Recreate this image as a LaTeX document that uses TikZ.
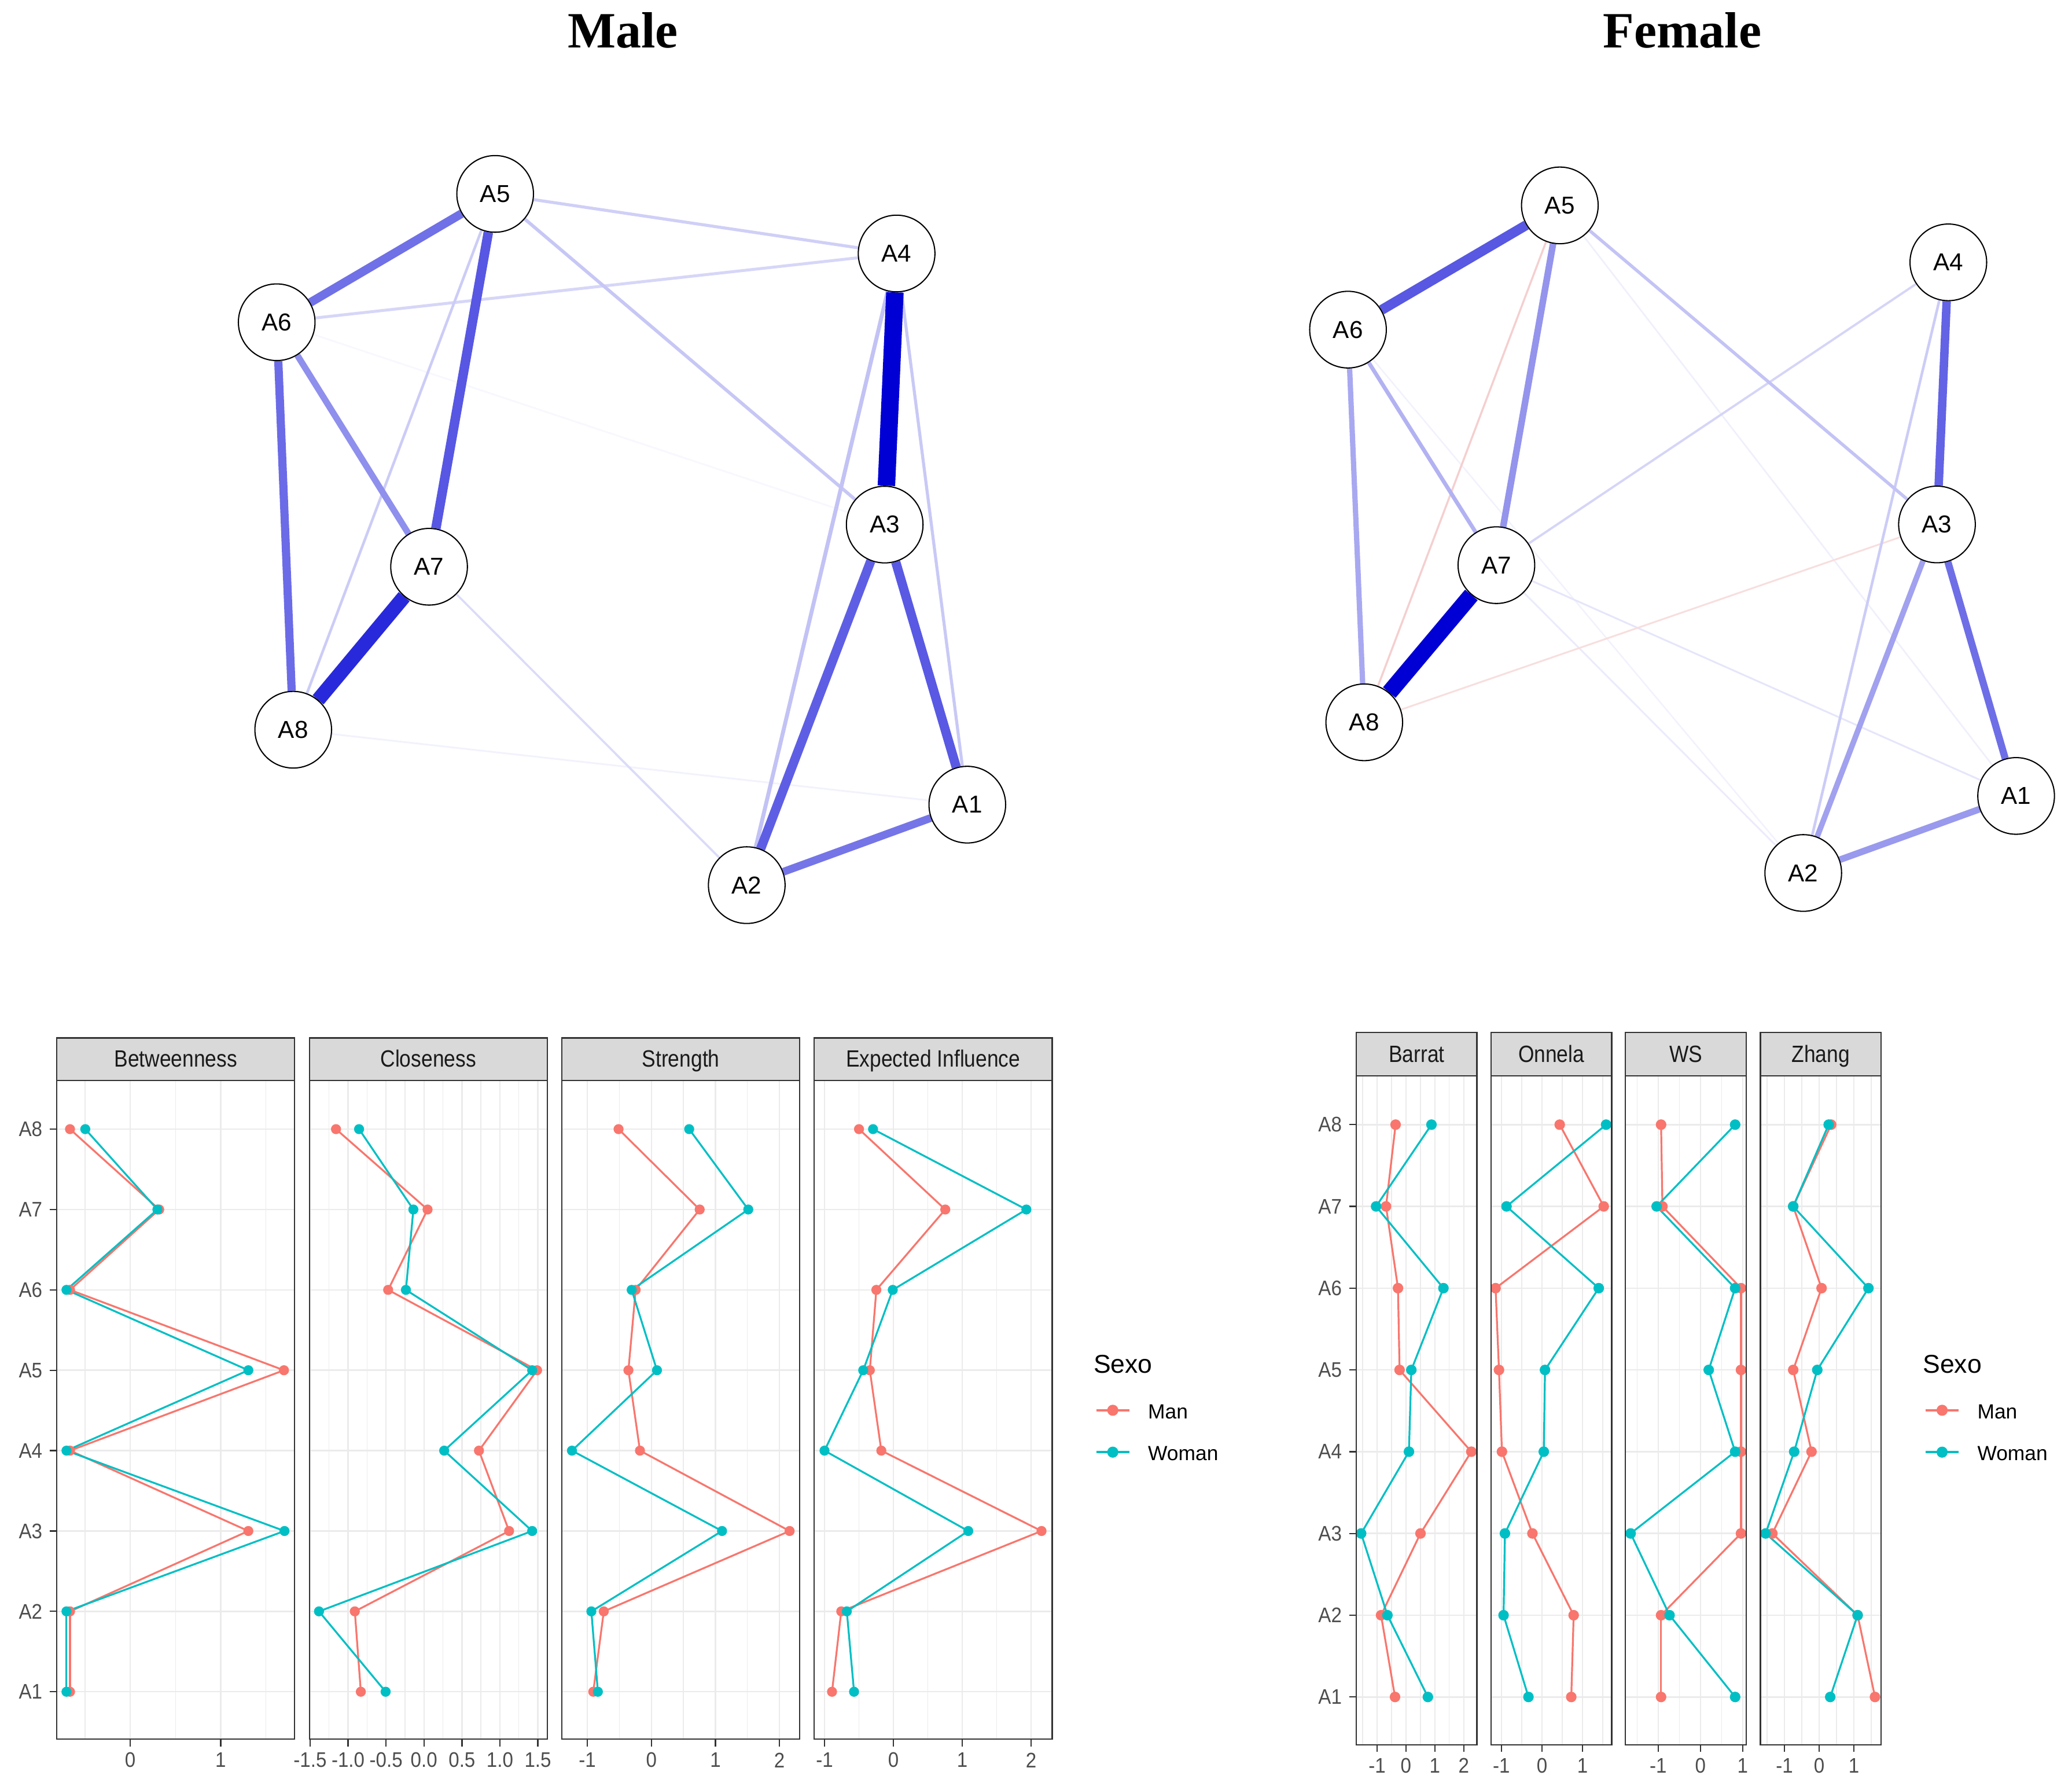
\documentclass[tikz,border=0pt]{standalone}
\usepackage{fontspec}
\setmainfont{Liberation Sans}
\newfontfamily\titlefont{Liberation Serif}
\usepackage{graphicx}
\usetikzlibrary{backgrounds}

\definecolor{manc}{HTML}{F8766D}
\definecolor{womc}{HTML}{00BFC4}
\definecolor{gridc}{HTML}{EBEBEB}
\definecolor{gtw}{HTML}{333333}
\definecolor{gth}{HTML}{4D4D4D}
\definecolor{gte}{HTML}{1A1A1A}
\definecolor{stripc}{HTML}{D9D9D9}
\definecolor{eblue}{HTML}{0000D5}
\definecolor{ered}{HTML}{C80000}

\newcommand{\fsz}[1]{\fontsize{#1}{#1}\selectfont}
\newcommand{\ystr}[2]{\scalebox{1}[#1]{#2}}
\newcount\nodecnt

\tikzset{
  netnode/.style={circle, draw=black, fill=white, line width=0.9pt, minimum size=58pt, inner sep=0pt, font=\fsz{18.5}},
  mingrid/.style={draw=gridc, line width=0.6pt},
  majgrid/.style={draw=gridc, line width=1.1pt},
  frame/.style={draw=gtw, line width=1pt},
  tickline/.style={draw=gtw, line width=1pt},
  striptext/.style={anchor=base, text=gte, font=\fsz{15.5}, inner sep=0pt},
  xlab/.style={anchor=center, text=gth, font=\fsz{14.5}, inner sep=0pt},
  ylab/.style={anchor=east, text=gth, font=\fsz{14.5}, inner sep=0pt},
  dline/.style={line width=1.4pt, line cap=round, line join=round},
  titlestyle/.style={anchor=base, font=\titlefont\bfseries\fsz{38.5}, inner sep=0pt},
}

\newcommand{\nedge}[4]{\draw[line width=#3pt, draw=eblue!#4] (#1) -- (#2);}
\newcommand{\nedgered}[4]{\draw[line width=#3pt, draw=ered!#4] (#1) -- (#2);}

% series line: #1 zero, #2 unit, #3 colour, #4 values (A8..A1)
\newcommand{\serline}[4]{%
  \foreach \v [count=\i from 0, remember=\v as \lv (initially 0)] in {#4} {%
    \ifnum\i>0 \draw[dline, #3] ({#1+(\lv)*#2},{\RA+(\i-1)*\RS}) -- ({#1+(\v)*#2},{\RA+\i*\RS});\fi
  }%
}
\newcommand{\serpts}[4]{%
  \foreach \v [count=\i from 0] in {#4} {\fill[#3] ({#1+(\v)*#2},{\RA+\i*\RS}) circle[radius=\PR];}%
}

% #1 left, #2 zero, #3 unit, #4 title, #5 majors, #6 minors, #7 labels, #8 man, #9 woman
\newcommand{\plotpanel}[9]{%
  \begin{scope}
    \clip (#1,\SB) rectangle ({#1+\PW},\PB);
    \foreach \v in {#6} {\draw[mingrid] ({#2+(\v)*#3},\SB) -- ({#2+(\v)*#3},\PB);}
    \foreach \v in {#5} {\draw[majgrid] ({#2+(\v)*#3},\SB) -- ({#2+(\v)*#3},\PB);}
    \foreach \i in {0,...,7} {\draw[majgrid] (#1,{\RA+\i*\RS}) -- ({#1+\PW},{\RA+\i*\RS});}
    \serline{#2}{#3}{manc}{#8}
    \serline{#2}{#3}{womc}{#9}
    \serpts{#2}{#3}{manc}{#8}
    \serpts{#2}{#3}{womc}{#9}
  \end{scope}
  \draw[frame] (#1,\SB) rectangle ({#1+\PW},\PB);
  \draw[frame, fill=stripc] (#1,\ST) rectangle ({#1+\PW},\SB);
  \global\advance\nodecnt by 1
  \node[striptext] (lbl\the\nodecnt) at ({#1+\PW/2},{(\ST+\SB)/2+6}) {\ystr{1.15}{#4}};
  \foreach \v/\t in {#7} {%
    \draw[tickline] ({#2+(\v)*#3},\PB) -- ({#2+(\v)*#3},{\PB+5.5});
    \global\advance\nodecnt by 1
    \node[xlab] (lbl\the\nodecnt) at ({#2+(\v)*#3},{\PB+15.9}) {\ystr{1.1}{\t}};
  }%
}

\newcommand{\plotyaxis}[1]{%
  \foreach \n [count=\i from 0] in {8,7,6,5,4,3,2,1} {%
    \draw[tickline] ({#1-5.5},{\RA+\i*\RS}) -- (#1,{\RA+\i*\RS});
    \global\advance\nodecnt by 1
    \node[ylab] (lbl\the\nodecnt) at ({#1-10.8},{\RA+\i*\RS}) {\ystr{1.1}{A\n}};
  }%
}

\newcommand{\sexolegend}[2]{%
  \node[anchor=base west, font=\fsz{19.5}, inner sep=0pt] (#2sexo) at (#1,1038.7) {Sexo};
  \draw[manc, line width=1.75pt] (#1+2.2,1067) -- (#1+27.2,1067);
  \fill[manc] (#1+14.7,1067) circle[radius=4.2pt];
  \node[anchor=base west, font=\fsz{15.5}, inner sep=0pt] (#2man) at (#1+41.2,1073.2) {Man};
  \draw[womc, line width=1.75pt] (#1+2.2,1098.7) -- (#1+27.2,1098.7);
  \fill[womc] (#1+14.7,1098.7) circle[radius=4.2pt];
  \node[anchor=base west, font=\fsz{15.5}, inner sep=0pt] (#2woman) at (#1+41.2,1104.9) {Woman};
}

\begin{document}
\begin{tikzpicture}[x=1pt,y=-1pt]
\begin{scope}[on background layer]
  \fill[white] (0,0) rectangle (1568,1354);
\end{scope}
\useasboundingbox (0,0) rectangle (1568,1354);

% titles
\node[titlestyle] (tmale) at (471.4,36.2) {Male};
\node[titlestyle] (tfemale) at (1273,36.2) {Female};

% male network nodes
\node[netnode] (m1) at (732.0,608.8) {A1};
\node[netnode] (m2) at (565.1,669.7) {A2};
\node[netnode] (m3) at (669.5,396.9) {A3};
\node[netnode] (m4) at (678.5,191.8) {A4};
\node[netnode] (m5) at (374.7,146.7) {A5};
\node[netnode] (m6) at (209.4,243.8) {A6};
\node[netnode] (m7) at (324.7,428.8) {A7};
\node[netnode] (m8) at (221.9,552.1) {A8};

% female network nodes
\node[netnode] (f1) at (1525.7,602.2) {A1};
\node[netnode] (f2) at (1364.6,660.5) {A2};
\node[netnode] (f3) at (1465.8,396.8) {A3};
\node[netnode] (f4) at (1474.4,198.5) {A4};
\node[netnode] (f5) at (1180.4,155.4) {A5};
\node[netnode] (f6) at (1020.1,249.4) {A6};
\node[netnode] (f7) at (1132.4,427.6) {A7};
\node[netnode] (f8) at (1032.4,546.5) {A8};

\begin{scope}[on background layer]
  % male edges
  \nedge{m6}{m3}{1.2}{3}
  \nedge{m8}{m1}{1.3}{5}
  \nedge{m7}{m2}{1.6}{14}
  \nedge{m6}{m4}{2.2}{16}
  \nedge{m5}{m4}{2.3}{19}
  \nedge{m5}{m8}{2.0}{20}
  \nedge{m4}{m1}{2.3}{21}
  \nedge{m5}{m3}{2.5}{22}
  \nedge{m4}{m2}{3.0}{24}
  \nedge{m6}{m7}{4.8}{44}
  \nedge{m2}{m1}{5.9}{54}
  \nedge{m5}{m6}{6.5}{56}
  \nedge{m6}{m8}{6.2}{58}
  \nedge{m3}{m2}{7.0}{63}
  \nedge{m3}{m1}{7.0}{65}
  \nedge{m5}{m7}{7.2}{66}
  \nedge{m7}{m8}{10.8}{84}
  \nedge{m4}{m3}{13.2}{100}
  % female edges
  \nedge{f6}{f2}{1.1}{5}
  \nedge{f5}{f1}{1.2}{6}
  \nedge{f7}{f2}{1.3}{8}
  \nedge{f7}{f1}{1.3}{10}
  \nedgered{f3}{f8}{1.3}{13}
  \nedgered{f5}{f8}{1.5}{19}
  \nedge{f4}{f7}{1.7}{16.5}
  \nedge{f4}{f2}{2.0}{20}
  \nedge{f5}{f3}{2.4}{23.5}
  \nedge{f6}{f7}{3.0}{30}
  \nedge{f6}{f8}{4.0}{34}
  \nedge{f3}{f2}{4.2}{37}
  \nedge{f2}{f1}{5.0}{40}
  \nedge{f5}{f7}{5.0}{42}
  \nedge{f3}{f1}{5.4}{57}
  \nedge{f4}{f3}{6.4}{61}
  \nedge{f5}{f6}{7.5}{65.5}
  \nedge{f7}{f8}{12.4}{100}
\end{scope}

% ---------- left centrality plots ----------
\def\PW{180}\def\ST{785.3}\def\SB{817.4}\def\PB{1315.8}\def\RA{854.3}\def\RS{60.81}\def\PR{3.8pt}
\plotpanel{43}{98.6}{68.4}{Betweenness}{0,1}{-0.5,0.5,1.5}{0/0,1/1}
  {-0.667,0.32,-0.667,1.70,-0.667,1.306,-0.667,-0.667}
  {-0.498,0.30,-0.706,1.306,-0.706,1.706,-0.706,-0.706}
\plotpanel{234.1}{320.85}{57.45}{Closeness}{-1.5,-1,-0.5,0,0.5,1,1.5}{-1.25,-0.75,-0.25,0.25,0.75,1.25}
  {-1.5/-1.5,-1/-1.0,-0.5/-0.5,0/0.0,0.5/0.5,1/1.0,1.5/1.5}
  {-1.159,0.047,-0.472,1.49,0.724,1.121,-0.911,-0.832}
  {-0.855,-0.140,-0.238,1.425,0.266,1.425,-1.383,-0.505}
\plotpanel{425.2}{492.95}{48.45}{Strength}{-1,0,1,2}{-0.5,0.5,1.5}{-1/-1,0/0,1/1,2/2}
  {-0.513,0.754,-0.246,-0.359,-0.179,2.159,-0.744,-0.908}
  {0.590,1.513,-0.308,0.087,-1.241,1.103,-0.938,-0.836}
\plotpanel{616.2}{676.1}{52.1}{Expected Influence}{-1,0,1,2}{-0.5,0.5,1.5}{-1/-1,0/0,1/1,2/2}
  {-0.50,0.753,-0.248,-0.343,-0.176,2.151,-0.758,-0.892}
  {-0.296,1.931,-0.01,-0.439,-1.001,1.087,-0.677,-0.572}
\plotyaxis{43}
\sexolegend{827.4}{l}

% ---------- right clustering plots ----------
\def\PW{91.3}\def\ST{781}\def\SB{814.1}\def\PB{1320}\def\RA{850.9}\def\RS{61.86}\def\PR{4pt}
\plotpanel{1026.4}{1063.96}{21.86}{Barrat}{-1,0,1,2}{-1.5,-0.5,0.5,1.5}{-1/-1,0/0,1/1,2/2}
  {-0.359,-0.69,-0.276,-0.221,2.262,0.503,-0.862,-0.379}
  {0.883,-1.034,1.297,0.186,0.103,-1.552,-0.641,0.759}
\plotpanel{1128.3}{1166.9}{30.68}{Onnela}{-1,0,1}{-0.5,0.5,1.5}{-1/-1,0/0,1/1}
  {0.437,1.523,-1.145,-1.061,-0.988,-0.236,0.781,0.722}
  {1.582,-0.875,1.40,0.074,0.044,-0.914,-0.948,-0.334}
\plotpanel{1230.1}{1286.8}{31.96}{WS}{-1,0,1}{-1.5,-0.5,0.5}{-1/-1,0/0,1/1}
  {-0.932,-0.90,0.96,0.96,0.96,0.96,-0.932,-0.932}
  {0.822,-1.037,0.822,0.196,0.822,-1.653,-0.731,0.822}
\plotpanel{1332.2}{1376.7}{26.27}{Zhang}{-1,0,1}{-1.5,-0.5,0.5,1.5}{-1/-1,0/0,1/1}
  {0.344,-0.75,0.067,-0.75,-0.222,-1.35,1.106,1.606}
  {0.272,-0.75,1.417,-0.056,-0.722,-1.544,1.106,0.317}
\plotyaxis{1026.4}
\sexolegend{1455}{r}
\end{tikzpicture}
\end{document}
